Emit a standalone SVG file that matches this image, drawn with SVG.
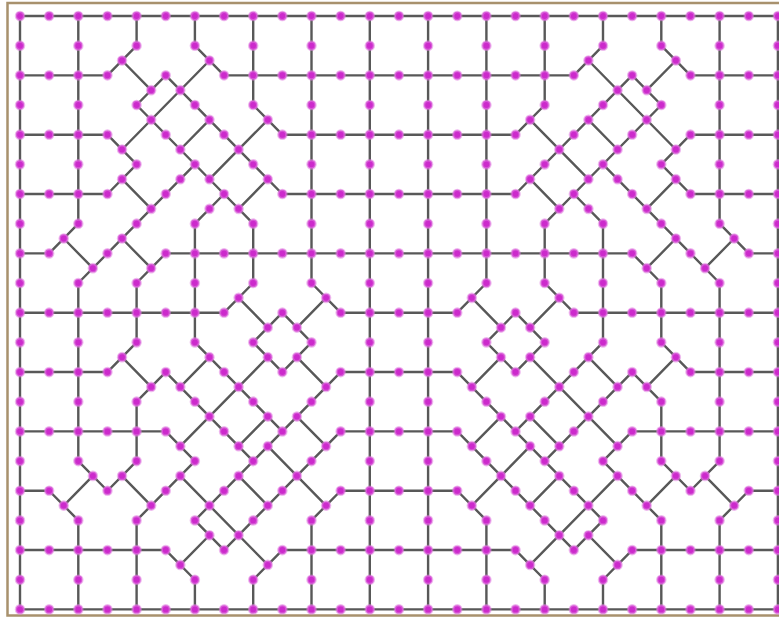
<svg xmlns="http://www.w3.org/2000/svg" width="779" height="619" viewBox="0 0 779 619">
<style>
.e{fill:none;stroke:#585858;stroke-width:2.4px;vector-effect:non-scaling-stroke;stroke-linecap:round;stroke-linejoin:round}
#nodes circle{fill:#cc2acc;stroke:#e080e0;stroke-width:.08;stroke-opacity:.55}
</style>
<rect x="0" y="0" width="779" height="619" fill="#fff"/>
<rect x="7.5" y="3" width="800" height="612.5" fill="#fff" stroke="#a8916d" stroke-width="2.5"/>
<g transform="translate(20 16) scale(29.15 29.67)">
<g id="connectors">
<path class="e" d="M0 0H26M0 2H3M7 2H19M23 2H26M0 4H3M9 4H17M23 4H26M0 6H3M9 6H17M23 6H26M0 8H1M5 8H21M25 8H26M0 10H7M11 10H15M19 10H26M0 12H3M11 12H15M23 12H26M0 14H5M11 14H15M21 14H26M0 16H1M11 16H15M25 16H26M0 18H5M9 18H17M21 18H26M0 20H26"/>
<path class="e" d="M0 0V20M2 0V7M2 9V15M2 17V20M4 0V1M4 9V11M4 13V15M4 17V20M6 0V1M6 7V11M6 19V20M8 0V3M8 7V9M8 19V20M10 0V9M10 17V20M12 0V20M14 0V20M16 0V9M16 17V20M18 0V3M18 7V9M18 19V20M20 0V1M20 7V11M20 19V20M22 0V1M22 9V11M22 13V15M22 17V20M24 0V7M24 9V15M24 17V20M26 0V20"/>
<path class="e" d="M4 1L3 2M6 1L7 2M3.5 1.5L4.5 2.5M5 2L4 3M5 2L9 6M6.5 1.5L3.5 4.5M4 3L7 6M8 3L9 4M8.5 3.5L6.5 5.5M6.5 3.5L5.5 4.5M3 4L4 5L3 6M3.5 5.5L4.5 6.5M6 5L2 9M6 7L7 6L8 7M8.5 5.5L7.5 6.5M2 7L1 8M1.5 7.5L2.5 8.5M3.5 7.5L4.5 8.5M5 8L4 9M8 9L7 10M7.5 9.5L8.5 10.5M9 10L10 11L9 12L8 11ZM10 9L11 10M10.5 9.5L9.5 10.5M11 12L8 15M9.5 11.5L10.5 12.5M8.5 11.5L5.5 14.5M6 11L9 14M6.5 11.5L5.5 12.5M4 11L3 12M3.5 11.5L4.5 12.5M5 12L4 13M5 12L8 15M8.5 13.5L7.5 14.5M5 14L6 15L4 17M4 15L3 16L2 15M2.5 15.5L1.5 16.5M1 16L2 17M3.5 15.5L4.5 16.5M5.5 15.5L8.5 18.5M8 15L6 17L7 18L11 14M9 18L8 19M8.5 14.5L10.5 16.5M7.5 15.5L8.5 16.5M9.5 13.5L10.5 14.5M11 16L10 17M5 18L6 19M5.5 18.5L6.5 17.5"/>
<path class="e" d="M22 1L23 2M20 1L19 2M22.5 1.5L21.5 2.5M21 2L22 3M21 2L17 6M19.5 1.5L22.5 4.5M22 3L19 6M18 3L17 4M17.5 3.5L19.5 5.5M19.5 3.5L20.5 4.5M23 4L22 5L23 6M22.5 5.5L21.5 6.5M20 5L24 9M20 7L19 6L18 7M17.5 5.5L18.5 6.5M24 7L25 8M24.5 7.5L23.5 8.5M22.5 7.5L21.5 8.5M21 8L22 9M18 9L19 10M18.5 9.5L17.5 10.5M17 10L16 11L17 12L18 11ZM16 9L15 10M15.5 9.5L16.5 10.5M15 12L18 15M16.5 11.5L15.5 12.5M17.5 11.5L20.5 14.5M20 11L17 14M19.5 11.5L20.5 12.5M22 11L23 12M22.5 11.5L21.5 12.5M21 12L22 13M21 12L18 15M17.5 13.5L18.5 14.5M21 14L20 15L22 17M22 15L23 16L24 15M23.5 15.5L24.5 16.5M25 16L24 17M22.5 15.5L21.5 16.5M20.5 15.5L17.5 18.5M18 15L20 17L19 18L15 14M17 18L18 19M17.5 14.5L15.5 16.5M18.5 15.5L17.5 16.5M16.5 13.5L15.5 14.5M15 16L16 17M21 18L20 19M20.5 18.5L19.5 17.5"/>
</g>
<g id="nodes">
<g id="n0_0"><circle cx="0" cy="0" r=".14"/></g><g id="n2_0"><circle cx="1" cy="0" r=".14"/></g><g id="n4_0"><circle cx="2" cy="0" r=".14"/></g><g id="n6_0"><circle cx="3" cy="0" r=".14"/></g><g id="n8_0"><circle cx="4" cy="0" r=".14"/></g><g id="n10_0"><circle cx="5" cy="0" r=".14"/></g><g id="n12_0"><circle cx="6" cy="0" r=".14"/></g><g id="n14_0"><circle cx="7" cy="0" r=".14"/></g><g id="n16_0"><circle cx="8" cy="0" r=".14"/></g><g id="n18_0"><circle cx="9" cy="0" r=".14"/></g><g id="n20_0"><circle cx="10" cy="0" r=".14"/></g><g id="n22_0"><circle cx="11" cy="0" r=".14"/></g><g id="n24_0"><circle cx="12" cy="0" r=".14"/></g><g id="n26_0"><circle cx="13" cy="0" r=".14"/></g><g id="n28_0"><circle cx="14" cy="0" r=".14"/></g><g id="n30_0"><circle cx="15" cy="0" r=".14"/></g><g id="n32_0"><circle cx="16" cy="0" r=".14"/></g><g id="n34_0"><circle cx="17" cy="0" r=".14"/></g><g id="n36_0"><circle cx="18" cy="0" r=".14"/></g><g id="n38_0"><circle cx="19" cy="0" r=".14"/></g><g id="n40_0"><circle cx="20" cy="0" r=".14"/></g><g id="n42_0"><circle cx="21" cy="0" r=".14"/></g><g id="n44_0"><circle cx="22" cy="0" r=".14"/></g><g id="n46_0"><circle cx="23" cy="0" r=".14"/></g><g id="n48_0"><circle cx="24" cy="0" r=".14"/></g><g id="n50_0"><circle cx="25" cy="0" r=".14"/></g><g id="n52_0"><circle cx="26" cy="0" r=".14"/></g>
<g id="n0_2"><circle cx="0" cy="1" r=".14"/></g><g id="n4_2"><circle cx="2" cy="1" r=".14"/></g><g id="n8_2"><circle cx="4" cy="1" r=".14"/></g><g id="n12_2"><circle cx="6" cy="1" r=".14"/></g><g id="n16_2"><circle cx="8" cy="1" r=".14"/></g><g id="n20_2"><circle cx="10" cy="1" r=".14"/></g><g id="n24_2"><circle cx="12" cy="1" r=".14"/></g><g id="n28_2"><circle cx="14" cy="1" r=".14"/></g><g id="n32_2"><circle cx="16" cy="1" r=".14"/></g><g id="n36_2"><circle cx="18" cy="1" r=".14"/></g><g id="n40_2"><circle cx="20" cy="1" r=".14"/></g><g id="n44_2"><circle cx="22" cy="1" r=".14"/></g><g id="n48_2"><circle cx="24" cy="1" r=".14"/></g><g id="n52_2"><circle cx="26" cy="1" r=".14"/></g>
<g id="n0_4"><circle cx="0" cy="2" r=".14"/></g><g id="n2_4"><circle cx="1" cy="2" r=".14"/></g><g id="n4_4"><circle cx="2" cy="2" r=".14"/></g><g id="n6_4"><circle cx="3" cy="2" r=".14"/></g><g id="n10_4"><circle cx="5" cy="2" r=".14"/></g><g id="n14_4"><circle cx="7" cy="2" r=".14"/></g><g id="n16_4"><circle cx="8" cy="2" r=".14"/></g><g id="n18_4"><circle cx="9" cy="2" r=".14"/></g><g id="n20_4"><circle cx="10" cy="2" r=".14"/></g><g id="n22_4"><circle cx="11" cy="2" r=".14"/></g><g id="n24_4"><circle cx="12" cy="2" r=".14"/></g><g id="n26_4"><circle cx="13" cy="2" r=".14"/></g><g id="n28_4"><circle cx="14" cy="2" r=".14"/></g><g id="n30_4"><circle cx="15" cy="2" r=".14"/></g><g id="n32_4"><circle cx="16" cy="2" r=".14"/></g><g id="n34_4"><circle cx="17" cy="2" r=".14"/></g><g id="n36_4"><circle cx="18" cy="2" r=".14"/></g><g id="n38_4"><circle cx="19" cy="2" r=".14"/></g><g id="n42_4"><circle cx="21" cy="2" r=".14"/></g><g id="n46_4"><circle cx="23" cy="2" r=".14"/></g><g id="n48_4"><circle cx="24" cy="2" r=".14"/></g><g id="n50_4"><circle cx="25" cy="2" r=".14"/></g><g id="n52_4"><circle cx="26" cy="2" r=".14"/></g>
<g id="n0_6"><circle cx="0" cy="3" r=".14"/></g><g id="n4_6"><circle cx="2" cy="3" r=".14"/></g><g id="n8_6"><circle cx="4" cy="3" r=".14"/></g><g id="n12_6"><circle cx="6" cy="3" r=".14"/></g><g id="n16_6"><circle cx="8" cy="3" r=".14"/></g><g id="n20_6"><circle cx="10" cy="3" r=".14"/></g><g id="n24_6"><circle cx="12" cy="3" r=".14"/></g><g id="n28_6"><circle cx="14" cy="3" r=".14"/></g><g id="n32_6"><circle cx="16" cy="3" r=".14"/></g><g id="n36_6"><circle cx="18" cy="3" r=".14"/></g><g id="n40_6"><circle cx="20" cy="3" r=".14"/></g><g id="n44_6"><circle cx="22" cy="3" r=".14"/></g><g id="n48_6"><circle cx="24" cy="3" r=".14"/></g><g id="n52_6"><circle cx="26" cy="3" r=".14"/></g>
<g id="n0_8"><circle cx="0" cy="4" r=".14"/></g><g id="n2_8"><circle cx="1" cy="4" r=".14"/></g><g id="n4_8"><circle cx="2" cy="4" r=".14"/></g><g id="n6_8"><circle cx="3" cy="4" r=".14"/></g><g id="n10_8"><circle cx="5" cy="4" r=".14"/></g><g id="n14_8"><circle cx="7" cy="4" r=".14"/></g><g id="n18_8"><circle cx="9" cy="4" r=".14"/></g><g id="n20_8"><circle cx="10" cy="4" r=".14"/></g><g id="n22_8"><circle cx="11" cy="4" r=".14"/></g><g id="n24_8"><circle cx="12" cy="4" r=".14"/></g><g id="n26_8"><circle cx="13" cy="4" r=".14"/></g><g id="n28_8"><circle cx="14" cy="4" r=".14"/></g><g id="n30_8"><circle cx="15" cy="4" r=".14"/></g><g id="n32_8"><circle cx="16" cy="4" r=".14"/></g><g id="n34_8"><circle cx="17" cy="4" r=".14"/></g><g id="n38_8"><circle cx="19" cy="4" r=".14"/></g><g id="n42_8"><circle cx="21" cy="4" r=".14"/></g><g id="n46_8"><circle cx="23" cy="4" r=".14"/></g><g id="n48_8"><circle cx="24" cy="4" r=".14"/></g><g id="n50_8"><circle cx="25" cy="4" r=".14"/></g><g id="n52_8"><circle cx="26" cy="4" r=".14"/></g>
<g id="n0_10"><circle cx="0" cy="5" r=".14"/></g><g id="n4_10"><circle cx="2" cy="5" r=".14"/></g><g id="n8_10"><circle cx="4" cy="5" r=".14"/></g><g id="n12_10"><circle cx="6" cy="5" r=".14"/></g><g id="n16_10"><circle cx="8" cy="5" r=".14"/></g><g id="n20_10"><circle cx="10" cy="5" r=".14"/></g><g id="n24_10"><circle cx="12" cy="5" r=".14"/></g><g id="n28_10"><circle cx="14" cy="5" r=".14"/></g><g id="n32_10"><circle cx="16" cy="5" r=".14"/></g><g id="n36_10"><circle cx="18" cy="5" r=".14"/></g><g id="n40_10"><circle cx="20" cy="5" r=".14"/></g><g id="n44_10"><circle cx="22" cy="5" r=".14"/></g><g id="n48_10"><circle cx="24" cy="5" r=".14"/></g><g id="n52_10"><circle cx="26" cy="5" r=".14"/></g>
<g id="n0_12"><circle cx="0" cy="6" r=".14"/></g><g id="n2_12"><circle cx="1" cy="6" r=".14"/></g><g id="n4_12"><circle cx="2" cy="6" r=".14"/></g><g id="n6_12"><circle cx="3" cy="6" r=".14"/></g><g id="n10_12"><circle cx="5" cy="6" r=".14"/></g><g id="n14_12"><circle cx="7" cy="6" r=".14"/></g><g id="n18_12"><circle cx="9" cy="6" r=".14"/></g><g id="n20_12"><circle cx="10" cy="6" r=".14"/></g><g id="n22_12"><circle cx="11" cy="6" r=".14"/></g><g id="n24_12"><circle cx="12" cy="6" r=".14"/></g><g id="n26_12"><circle cx="13" cy="6" r=".14"/></g><g id="n28_12"><circle cx="14" cy="6" r=".14"/></g><g id="n30_12"><circle cx="15" cy="6" r=".14"/></g><g id="n32_12"><circle cx="16" cy="6" r=".14"/></g><g id="n34_12"><circle cx="17" cy="6" r=".14"/></g><g id="n38_12"><circle cx="19" cy="6" r=".14"/></g><g id="n42_12"><circle cx="21" cy="6" r=".14"/></g><g id="n46_12"><circle cx="23" cy="6" r=".14"/></g><g id="n48_12"><circle cx="24" cy="6" r=".14"/></g><g id="n50_12"><circle cx="25" cy="6" r=".14"/></g><g id="n52_12"><circle cx="26" cy="6" r=".14"/></g>
<g id="n0_14"><circle cx="0" cy="7" r=".14"/></g><g id="n4_14"><circle cx="2" cy="7" r=".14"/></g><g id="n8_14"><circle cx="4" cy="7" r=".14"/></g><g id="n12_14"><circle cx="6" cy="7" r=".14"/></g><g id="n16_14"><circle cx="8" cy="7" r=".14"/></g><g id="n20_14"><circle cx="10" cy="7" r=".14"/></g><g id="n24_14"><circle cx="12" cy="7" r=".14"/></g><g id="n28_14"><circle cx="14" cy="7" r=".14"/></g><g id="n32_14"><circle cx="16" cy="7" r=".14"/></g><g id="n36_14"><circle cx="18" cy="7" r=".14"/></g><g id="n40_14"><circle cx="20" cy="7" r=".14"/></g><g id="n44_14"><circle cx="22" cy="7" r=".14"/></g><g id="n48_14"><circle cx="24" cy="7" r=".14"/></g><g id="n52_14"><circle cx="26" cy="7" r=".14"/></g>
<g id="n0_16"><circle cx="0" cy="8" r=".14"/></g><g id="n2_16"><circle cx="1" cy="8" r=".14"/></g><g id="n6_16"><circle cx="3" cy="8" r=".14"/></g><g id="n10_16"><circle cx="5" cy="8" r=".14"/></g><g id="n12_16"><circle cx="6" cy="8" r=".14"/></g><g id="n14_16"><circle cx="7" cy="8" r=".14"/></g><g id="n16_16"><circle cx="8" cy="8" r=".14"/></g><g id="n18_16"><circle cx="9" cy="8" r=".14"/></g><g id="n20_16"><circle cx="10" cy="8" r=".14"/></g><g id="n22_16"><circle cx="11" cy="8" r=".14"/></g><g id="n24_16"><circle cx="12" cy="8" r=".14"/></g><g id="n26_16"><circle cx="13" cy="8" r=".14"/></g><g id="n28_16"><circle cx="14" cy="8" r=".14"/></g><g id="n30_16"><circle cx="15" cy="8" r=".14"/></g><g id="n32_16"><circle cx="16" cy="8" r=".14"/></g><g id="n34_16"><circle cx="17" cy="8" r=".14"/></g><g id="n36_16"><circle cx="18" cy="8" r=".14"/></g><g id="n38_16"><circle cx="19" cy="8" r=".14"/></g><g id="n40_16"><circle cx="20" cy="8" r=".14"/></g><g id="n42_16"><circle cx="21" cy="8" r=".14"/></g><g id="n46_16"><circle cx="23" cy="8" r=".14"/></g><g id="n50_16"><circle cx="25" cy="8" r=".14"/></g><g id="n52_16"><circle cx="26" cy="8" r=".14"/></g>
<g id="n0_18"><circle cx="0" cy="9" r=".14"/></g><g id="n4_18"><circle cx="2" cy="9" r=".14"/></g><g id="n8_18"><circle cx="4" cy="9" r=".14"/></g><g id="n12_18"><circle cx="6" cy="9" r=".14"/></g><g id="n16_18"><circle cx="8" cy="9" r=".14"/></g><g id="n20_18"><circle cx="10" cy="9" r=".14"/></g><g id="n24_18"><circle cx="12" cy="9" r=".14"/></g><g id="n28_18"><circle cx="14" cy="9" r=".14"/></g><g id="n32_18"><circle cx="16" cy="9" r=".14"/></g><g id="n36_18"><circle cx="18" cy="9" r=".14"/></g><g id="n40_18"><circle cx="20" cy="9" r=".14"/></g><g id="n44_18"><circle cx="22" cy="9" r=".14"/></g><g id="n48_18"><circle cx="24" cy="9" r=".14"/></g><g id="n52_18"><circle cx="26" cy="9" r=".14"/></g>
<g id="n0_20"><circle cx="0" cy="10" r=".14"/></g><g id="n2_20"><circle cx="1" cy="10" r=".14"/></g><g id="n4_20"><circle cx="2" cy="10" r=".14"/></g><g id="n6_20"><circle cx="3" cy="10" r=".14"/></g><g id="n8_20"><circle cx="4" cy="10" r=".14"/></g><g id="n10_20"><circle cx="5" cy="10" r=".14"/></g><g id="n12_20"><circle cx="6" cy="10" r=".14"/></g><g id="n14_20"><circle cx="7" cy="10" r=".14"/></g><g id="n18_20"><circle cx="9" cy="10" r=".14"/></g><g id="n22_20"><circle cx="11" cy="10" r=".14"/></g><g id="n24_20"><circle cx="12" cy="10" r=".14"/></g><g id="n26_20"><circle cx="13" cy="10" r=".14"/></g><g id="n28_20"><circle cx="14" cy="10" r=".14"/></g><g id="n30_20"><circle cx="15" cy="10" r=".14"/></g><g id="n34_20"><circle cx="17" cy="10" r=".14"/></g><g id="n38_20"><circle cx="19" cy="10" r=".14"/></g><g id="n40_20"><circle cx="20" cy="10" r=".14"/></g><g id="n42_20"><circle cx="21" cy="10" r=".14"/></g><g id="n44_20"><circle cx="22" cy="10" r=".14"/></g><g id="n46_20"><circle cx="23" cy="10" r=".14"/></g><g id="n48_20"><circle cx="24" cy="10" r=".14"/></g><g id="n50_20"><circle cx="25" cy="10" r=".14"/></g><g id="n52_20"><circle cx="26" cy="10" r=".14"/></g>
<g id="n0_22"><circle cx="0" cy="11" r=".14"/></g><g id="n4_22"><circle cx="2" cy="11" r=".14"/></g><g id="n8_22"><circle cx="4" cy="11" r=".14"/></g><g id="n12_22"><circle cx="6" cy="11" r=".14"/></g><g id="n16_22"><circle cx="8" cy="11" r=".14"/></g><g id="n20_22"><circle cx="10" cy="11" r=".14"/></g><g id="n24_22"><circle cx="12" cy="11" r=".14"/></g><g id="n28_22"><circle cx="14" cy="11" r=".14"/></g><g id="n32_22"><circle cx="16" cy="11" r=".14"/></g><g id="n36_22"><circle cx="18" cy="11" r=".14"/></g><g id="n40_22"><circle cx="20" cy="11" r=".14"/></g><g id="n44_22"><circle cx="22" cy="11" r=".14"/></g><g id="n48_22"><circle cx="24" cy="11" r=".14"/></g><g id="n52_22"><circle cx="26" cy="11" r=".14"/></g>
<g id="n0_24"><circle cx="0" cy="12" r=".14"/></g><g id="n2_24"><circle cx="1" cy="12" r=".14"/></g><g id="n4_24"><circle cx="2" cy="12" r=".14"/></g><g id="n6_24"><circle cx="3" cy="12" r=".14"/></g><g id="n10_24"><circle cx="5" cy="12" r=".14"/></g><g id="n14_24"><circle cx="7" cy="12" r=".14"/></g><g id="n18_24"><circle cx="9" cy="12" r=".14"/></g><g id="n22_24"><circle cx="11" cy="12" r=".14"/></g><g id="n24_24"><circle cx="12" cy="12" r=".14"/></g><g id="n26_24"><circle cx="13" cy="12" r=".14"/></g><g id="n28_24"><circle cx="14" cy="12" r=".14"/></g><g id="n30_24"><circle cx="15" cy="12" r=".14"/></g><g id="n34_24"><circle cx="17" cy="12" r=".14"/></g><g id="n38_24"><circle cx="19" cy="12" r=".14"/></g><g id="n42_24"><circle cx="21" cy="12" r=".14"/></g><g id="n46_24"><circle cx="23" cy="12" r=".14"/></g><g id="n48_24"><circle cx="24" cy="12" r=".14"/></g><g id="n50_24"><circle cx="25" cy="12" r=".14"/></g><g id="n52_24"><circle cx="26" cy="12" r=".14"/></g>
<g id="n0_26"><circle cx="0" cy="13" r=".14"/></g><g id="n4_26"><circle cx="2" cy="13" r=".14"/></g><g id="n8_26"><circle cx="4" cy="13" r=".14"/></g><g id="n12_26"><circle cx="6" cy="13" r=".14"/></g><g id="n16_26"><circle cx="8" cy="13" r=".14"/></g><g id="n20_26"><circle cx="10" cy="13" r=".14"/></g><g id="n24_26"><circle cx="12" cy="13" r=".14"/></g><g id="n28_26"><circle cx="14" cy="13" r=".14"/></g><g id="n32_26"><circle cx="16" cy="13" r=".14"/></g><g id="n36_26"><circle cx="18" cy="13" r=".14"/></g><g id="n40_26"><circle cx="20" cy="13" r=".14"/></g><g id="n44_26"><circle cx="22" cy="13" r=".14"/></g><g id="n48_26"><circle cx="24" cy="13" r=".14"/></g><g id="n52_26"><circle cx="26" cy="13" r=".14"/></g>
<g id="n0_28"><circle cx="0" cy="14" r=".14"/></g><g id="n2_28"><circle cx="1" cy="14" r=".14"/></g><g id="n4_28"><circle cx="2" cy="14" r=".14"/></g><g id="n6_28"><circle cx="3" cy="14" r=".14"/></g><g id="n8_28"><circle cx="4" cy="14" r=".14"/></g><g id="n10_28"><circle cx="5" cy="14" r=".14"/></g><g id="n14_28"><circle cx="7" cy="14" r=".14"/></g><g id="n18_28"><circle cx="9" cy="14" r=".14"/></g><g id="n22_28"><circle cx="11" cy="14" r=".14"/></g><g id="n24_28"><circle cx="12" cy="14" r=".14"/></g><g id="n26_28"><circle cx="13" cy="14" r=".14"/></g><g id="n28_28"><circle cx="14" cy="14" r=".14"/></g><g id="n30_28"><circle cx="15" cy="14" r=".14"/></g><g id="n34_28"><circle cx="17" cy="14" r=".14"/></g><g id="n38_28"><circle cx="19" cy="14" r=".14"/></g><g id="n42_28"><circle cx="21" cy="14" r=".14"/></g><g id="n44_28"><circle cx="22" cy="14" r=".14"/></g><g id="n46_28"><circle cx="23" cy="14" r=".14"/></g><g id="n48_28"><circle cx="24" cy="14" r=".14"/></g><g id="n50_28"><circle cx="25" cy="14" r=".14"/></g><g id="n52_28"><circle cx="26" cy="14" r=".14"/></g>
<g id="n0_30"><circle cx="0" cy="15" r=".14"/></g><g id="n4_30"><circle cx="2" cy="15" r=".14"/></g><g id="n8_30"><circle cx="4" cy="15" r=".14"/></g><g id="n12_30"><circle cx="6" cy="15" r=".14"/></g><g id="n16_30"><circle cx="8" cy="15" r=".14"/></g><g id="n20_30"><circle cx="10" cy="15" r=".14"/></g><g id="n24_30"><circle cx="12" cy="15" r=".14"/></g><g id="n28_30"><circle cx="14" cy="15" r=".14"/></g><g id="n32_30"><circle cx="16" cy="15" r=".14"/></g><g id="n36_30"><circle cx="18" cy="15" r=".14"/></g><g id="n40_30"><circle cx="20" cy="15" r=".14"/></g><g id="n44_30"><circle cx="22" cy="15" r=".14"/></g><g id="n48_30"><circle cx="24" cy="15" r=".14"/></g><g id="n52_30"><circle cx="26" cy="15" r=".14"/></g>
<g id="n0_32"><circle cx="0" cy="16" r=".14"/></g><g id="n2_32"><circle cx="1" cy="16" r=".14"/></g><g id="n6_32"><circle cx="3" cy="16" r=".14"/></g><g id="n10_32"><circle cx="5" cy="16" r=".14"/></g><g id="n14_32"><circle cx="7" cy="16" r=".14"/></g><g id="n18_32"><circle cx="9" cy="16" r=".14"/></g><g id="n22_32"><circle cx="11" cy="16" r=".14"/></g><g id="n24_32"><circle cx="12" cy="16" r=".14"/></g><g id="n26_32"><circle cx="13" cy="16" r=".14"/></g><g id="n28_32"><circle cx="14" cy="16" r=".14"/></g><g id="n30_32"><circle cx="15" cy="16" r=".14"/></g><g id="n34_32"><circle cx="17" cy="16" r=".14"/></g><g id="n38_32"><circle cx="19" cy="16" r=".14"/></g><g id="n42_32"><circle cx="21" cy="16" r=".14"/></g><g id="n46_32"><circle cx="23" cy="16" r=".14"/></g><g id="n50_32"><circle cx="25" cy="16" r=".14"/></g><g id="n52_32"><circle cx="26" cy="16" r=".14"/></g>
<g id="n0_34"><circle cx="0" cy="17" r=".14"/></g><g id="n4_34"><circle cx="2" cy="17" r=".14"/></g><g id="n8_34"><circle cx="4" cy="17" r=".14"/></g><g id="n12_34"><circle cx="6" cy="17" r=".14"/></g><g id="n16_34"><circle cx="8" cy="17" r=".14"/></g><g id="n20_34"><circle cx="10" cy="17" r=".14"/></g><g id="n24_34"><circle cx="12" cy="17" r=".14"/></g><g id="n28_34"><circle cx="14" cy="17" r=".14"/></g><g id="n32_34"><circle cx="16" cy="17" r=".14"/></g><g id="n36_34"><circle cx="18" cy="17" r=".14"/></g><g id="n40_34"><circle cx="20" cy="17" r=".14"/></g><g id="n44_34"><circle cx="22" cy="17" r=".14"/></g><g id="n48_34"><circle cx="24" cy="17" r=".14"/></g><g id="n52_34"><circle cx="26" cy="17" r=".14"/></g>
<g id="n0_36"><circle cx="0" cy="18" r=".14"/></g><g id="n2_36"><circle cx="1" cy="18" r=".14"/></g><g id="n4_36"><circle cx="2" cy="18" r=".14"/></g><g id="n6_36"><circle cx="3" cy="18" r=".14"/></g><g id="n8_36"><circle cx="4" cy="18" r=".14"/></g><g id="n10_36"><circle cx="5" cy="18" r=".14"/></g><g id="n14_36"><circle cx="7" cy="18" r=".14"/></g><g id="n18_36"><circle cx="9" cy="18" r=".14"/></g><g id="n20_36"><circle cx="10" cy="18" r=".14"/></g><g id="n22_36"><circle cx="11" cy="18" r=".14"/></g><g id="n24_36"><circle cx="12" cy="18" r=".14"/></g><g id="n26_36"><circle cx="13" cy="18" r=".14"/></g><g id="n28_36"><circle cx="14" cy="18" r=".14"/></g><g id="n30_36"><circle cx="15" cy="18" r=".14"/></g><g id="n32_36"><circle cx="16" cy="18" r=".14"/></g><g id="n34_36"><circle cx="17" cy="18" r=".14"/></g><g id="n38_36"><circle cx="19" cy="18" r=".14"/></g><g id="n42_36"><circle cx="21" cy="18" r=".14"/></g><g id="n44_36"><circle cx="22" cy="18" r=".14"/></g><g id="n46_36"><circle cx="23" cy="18" r=".14"/></g><g id="n48_36"><circle cx="24" cy="18" r=".14"/></g><g id="n50_36"><circle cx="25" cy="18" r=".14"/></g><g id="n52_36"><circle cx="26" cy="18" r=".14"/></g>
<g id="n0_38"><circle cx="0" cy="19" r=".14"/></g><g id="n4_38"><circle cx="2" cy="19" r=".14"/></g><g id="n8_38"><circle cx="4" cy="19" r=".14"/></g><g id="n12_38"><circle cx="6" cy="19" r=".14"/></g><g id="n16_38"><circle cx="8" cy="19" r=".14"/></g><g id="n20_38"><circle cx="10" cy="19" r=".14"/></g><g id="n24_38"><circle cx="12" cy="19" r=".14"/></g><g id="n28_38"><circle cx="14" cy="19" r=".14"/></g><g id="n32_38"><circle cx="16" cy="19" r=".14"/></g><g id="n36_38"><circle cx="18" cy="19" r=".14"/></g><g id="n40_38"><circle cx="20" cy="19" r=".14"/></g><g id="n44_38"><circle cx="22" cy="19" r=".14"/></g><g id="n48_38"><circle cx="24" cy="19" r=".14"/></g><g id="n52_38"><circle cx="26" cy="19" r=".14"/></g>
<g id="n0_40"><circle cx="0" cy="20" r=".14"/></g><g id="n2_40"><circle cx="1" cy="20" r=".14"/></g><g id="n4_40"><circle cx="2" cy="20" r=".14"/></g><g id="n6_40"><circle cx="3" cy="20" r=".14"/></g><g id="n8_40"><circle cx="4" cy="20" r=".14"/></g><g id="n10_40"><circle cx="5" cy="20" r=".14"/></g><g id="n12_40"><circle cx="6" cy="20" r=".14"/></g><g id="n14_40"><circle cx="7" cy="20" r=".14"/></g><g id="n16_40"><circle cx="8" cy="20" r=".14"/></g><g id="n18_40"><circle cx="9" cy="20" r=".14"/></g><g id="n20_40"><circle cx="10" cy="20" r=".14"/></g><g id="n22_40"><circle cx="11" cy="20" r=".14"/></g><g id="n24_40"><circle cx="12" cy="20" r=".14"/></g><g id="n26_40"><circle cx="13" cy="20" r=".14"/></g><g id="n28_40"><circle cx="14" cy="20" r=".14"/></g><g id="n30_40"><circle cx="15" cy="20" r=".14"/></g><g id="n32_40"><circle cx="16" cy="20" r=".14"/></g><g id="n34_40"><circle cx="17" cy="20" r=".14"/></g><g id="n36_40"><circle cx="18" cy="20" r=".14"/></g><g id="n38_40"><circle cx="19" cy="20" r=".14"/></g><g id="n40_40"><circle cx="20" cy="20" r=".14"/></g><g id="n42_40"><circle cx="21" cy="20" r=".14"/></g><g id="n44_40"><circle cx="22" cy="20" r=".14"/></g><g id="n46_40"><circle cx="23" cy="20" r=".14"/></g><g id="n48_40"><circle cx="24" cy="20" r=".14"/></g><g id="n50_40"><circle cx="25" cy="20" r=".14"/></g><g id="n52_40"><circle cx="26" cy="20" r=".14"/></g>
<g id="n7_3"><circle cx="3.5" cy="1.5" r=".14"/></g><g id="n13_3"><circle cx="6.5" cy="1.5" r=".14"/></g><g id="n39_3"><circle cx="19.5" cy="1.5" r=".14"/></g><g id="n45_3"><circle cx="22.5" cy="1.5" r=".14"/></g>
<g id="n9_5"><circle cx="4.5" cy="2.5" r=".14"/></g><g id="n11_5"><circle cx="5.5" cy="2.5" r=".14"/></g><g id="n41_5"><circle cx="20.5" cy="2.5" r=".14"/></g><g id="n43_5"><circle cx="21.5" cy="2.5" r=".14"/></g>
<g id="n9_7"><circle cx="4.5" cy="3.5" r=".14"/></g><g id="n13_7"><circle cx="6.5" cy="3.5" r=".14"/></g><g id="n17_7"><circle cx="8.5" cy="3.5" r=".14"/></g><g id="n35_7"><circle cx="17.5" cy="3.5" r=".14"/></g><g id="n39_7"><circle cx="19.5" cy="3.5" r=".14"/></g><g id="n43_7"><circle cx="21.5" cy="3.5" r=".14"/></g>
<g id="n7_9"><circle cx="3.5" cy="4.5" r=".14"/></g><g id="n11_9"><circle cx="5.5" cy="4.5" r=".14"/></g><g id="n15_9"><circle cx="7.5" cy="4.5" r=".14"/></g><g id="n37_9"><circle cx="18.5" cy="4.5" r=".14"/></g><g id="n41_9"><circle cx="20.5" cy="4.5" r=".14"/></g><g id="n45_9"><circle cx="22.5" cy="4.5" r=".14"/></g>
<g id="n7_11"><circle cx="3.5" cy="5.5" r=".14"/></g><g id="n11_11"><circle cx="5.5" cy="5.5" r=".14"/></g><g id="n13_11"><circle cx="6.5" cy="5.5" r=".14"/></g><g id="n17_11"><circle cx="8.5" cy="5.5" r=".14"/></g><g id="n35_11"><circle cx="17.5" cy="5.5" r=".14"/></g><g id="n39_11"><circle cx="19.5" cy="5.5" r=".14"/></g><g id="n41_11"><circle cx="20.5" cy="5.5" r=".14"/></g><g id="n45_11"><circle cx="22.5" cy="5.5" r=".14"/></g>
<g id="n9_13"><circle cx="4.5" cy="6.5" r=".14"/></g><g id="n13_13"><circle cx="6.5" cy="6.5" r=".14"/></g><g id="n15_13"><circle cx="7.5" cy="6.5" r=".14"/></g><g id="n37_13"><circle cx="18.5" cy="6.5" r=".14"/></g><g id="n39_13"><circle cx="19.5" cy="6.5" r=".14"/></g><g id="n43_13"><circle cx="21.5" cy="6.5" r=".14"/></g>
<g id="n3_15"><circle cx="1.5" cy="7.5" r=".14"/></g><g id="n7_15"><circle cx="3.5" cy="7.5" r=".14"/></g><g id="n45_15"><circle cx="22.5" cy="7.5" r=".14"/></g><g id="n49_15"><circle cx="24.5" cy="7.5" r=".14"/></g>
<g id="n5_17"><circle cx="2.5" cy="8.5" r=".14"/></g><g id="n9_17"><circle cx="4.5" cy="8.5" r=".14"/></g><g id="n43_17"><circle cx="21.5" cy="8.5" r=".14"/></g><g id="n47_17"><circle cx="23.5" cy="8.5" r=".14"/></g>
<g id="n15_19"><circle cx="7.5" cy="9.5" r=".14"/></g><g id="n21_19"><circle cx="10.5" cy="9.5" r=".14"/></g><g id="n31_19"><circle cx="15.5" cy="9.5" r=".14"/></g><g id="n37_19"><circle cx="18.5" cy="9.5" r=".14"/></g>
<g id="n17_21"><circle cx="8.5" cy="10.5" r=".14"/></g><g id="n19_21"><circle cx="9.5" cy="10.5" r=".14"/></g><g id="n33_21"><circle cx="16.5" cy="10.5" r=".14"/></g><g id="n35_21"><circle cx="17.5" cy="10.5" r=".14"/></g>
<g id="n7_23"><circle cx="3.5" cy="11.5" r=".14"/></g><g id="n13_23"><circle cx="6.5" cy="11.5" r=".14"/></g><g id="n17_23"><circle cx="8.5" cy="11.5" r=".14"/></g><g id="n19_23"><circle cx="9.5" cy="11.5" r=".14"/></g><g id="n33_23"><circle cx="16.5" cy="11.5" r=".14"/></g><g id="n35_23"><circle cx="17.5" cy="11.5" r=".14"/></g><g id="n39_23"><circle cx="19.5" cy="11.5" r=".14"/></g><g id="n45_23"><circle cx="22.5" cy="11.5" r=".14"/></g>
<g id="n9_25"><circle cx="4.5" cy="12.5" r=".14"/></g><g id="n11_25"><circle cx="5.5" cy="12.5" r=".14"/></g><g id="n15_25"><circle cx="7.5" cy="12.5" r=".14"/></g><g id="n21_25"><circle cx="10.5" cy="12.5" r=".14"/></g><g id="n31_25"><circle cx="15.5" cy="12.5" r=".14"/></g><g id="n37_25"><circle cx="18.5" cy="12.5" r=".14"/></g><g id="n41_25"><circle cx="20.5" cy="12.5" r=".14"/></g><g id="n43_25"><circle cx="21.5" cy="12.5" r=".14"/></g>
<g id="n13_27"><circle cx="6.5" cy="13.5" r=".14"/></g><g id="n17_27"><circle cx="8.5" cy="13.5" r=".14"/></g><g id="n19_27"><circle cx="9.5" cy="13.5" r=".14"/></g><g id="n33_27"><circle cx="16.5" cy="13.5" r=".14"/></g><g id="n35_27"><circle cx="17.5" cy="13.5" r=".14"/></g><g id="n39_27"><circle cx="19.5" cy="13.5" r=".14"/></g>
<g id="n11_29"><circle cx="5.5" cy="14.5" r=".14"/></g><g id="n15_29"><circle cx="7.5" cy="14.5" r=".14"/></g><g id="n17_29"><circle cx="8.5" cy="14.5" r=".14"/></g><g id="n21_29"><circle cx="10.5" cy="14.5" r=".14"/></g><g id="n31_29"><circle cx="15.5" cy="14.5" r=".14"/></g><g id="n35_29"><circle cx="17.5" cy="14.5" r=".14"/></g><g id="n37_29"><circle cx="18.5" cy="14.5" r=".14"/></g><g id="n41_29"><circle cx="20.5" cy="14.5" r=".14"/></g>
<g id="n5_31"><circle cx="2.5" cy="15.5" r=".14"/></g><g id="n7_31"><circle cx="3.5" cy="15.5" r=".14"/></g><g id="n11_31"><circle cx="5.5" cy="15.5" r=".14"/></g><g id="n15_31"><circle cx="7.5" cy="15.5" r=".14"/></g><g id="n19_31"><circle cx="9.5" cy="15.5" r=".14"/></g><g id="n33_31"><circle cx="16.5" cy="15.5" r=".14"/></g><g id="n37_31"><circle cx="18.5" cy="15.5" r=".14"/></g><g id="n41_31"><circle cx="20.5" cy="15.5" r=".14"/></g><g id="n45_31"><circle cx="22.5" cy="15.5" r=".14"/></g><g id="n47_31"><circle cx="23.5" cy="15.5" r=".14"/></g>
<g id="n3_33"><circle cx="1.5" cy="16.5" r=".14"/></g><g id="n9_33"><circle cx="4.5" cy="16.5" r=".14"/></g><g id="n13_33"><circle cx="6.5" cy="16.5" r=".14"/></g><g id="n17_33"><circle cx="8.5" cy="16.5" r=".14"/></g><g id="n21_33"><circle cx="10.5" cy="16.5" r=".14"/></g><g id="n31_33"><circle cx="15.5" cy="16.5" r=".14"/></g><g id="n35_33"><circle cx="17.5" cy="16.5" r=".14"/></g><g id="n39_33"><circle cx="19.5" cy="16.5" r=".14"/></g><g id="n43_33"><circle cx="21.5" cy="16.5" r=".14"/></g><g id="n49_33"><circle cx="24.5" cy="16.5" r=".14"/></g>
<g id="n13_35"><circle cx="6.5" cy="17.5" r=".14"/></g><g id="n15_35"><circle cx="7.5" cy="17.5" r=".14"/></g><g id="n37_35"><circle cx="18.5" cy="17.5" r=".14"/></g><g id="n39_35"><circle cx="19.5" cy="17.5" r=".14"/></g>
<g id="n11_37"><circle cx="5.5" cy="18.5" r=".14"/></g><g id="n17_37"><circle cx="8.5" cy="18.5" r=".14"/></g><g id="n35_37"><circle cx="17.5" cy="18.5" r=".14"/></g><g id="n41_37"><circle cx="20.5" cy="18.5" r=".14"/></g>
</g>
</g>
</svg>
